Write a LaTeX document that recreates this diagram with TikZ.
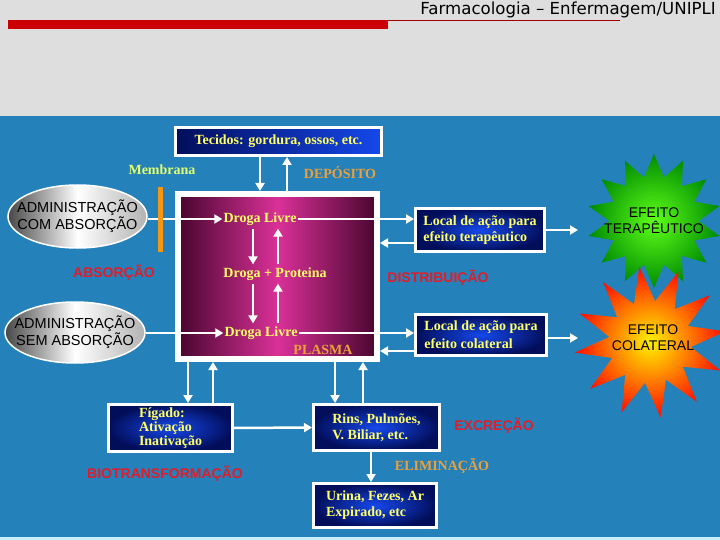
\documentclass[tikz,border=0pt]{standalone}
\usepackage{fontspec}
\setmainfont{Liberation Serif}
\setsansfont{Liberation Sans}
\newfontfamily\hdrfont{DejaVu Sans}
\usetikzlibrary{shapes.geometric,arrows.meta,calc}
\definecolor{bgblue}{RGB}{36,129,186}
\definecolor{hdrgray}{RGB}{222,222,222}
\definecolor{hdrred}{RGB}{204,0,0}
\definecolor{stripcyan}{RGB}{200,240,250}
\definecolor{txtyellow}{RGB}{255,255,102}
\definecolor{memyellow}{RGB}{225,255,110}
\definecolor{lblorange}{RGB}{236,160,60}
\definecolor{lblred}{RGB}{226,28,40}
\definecolor{navydark}{RGB}{2,14,90}
\definecolor{navybright}{RGB}{22,72,235}
\definecolor{plasmadark}{RGB}{72,6,46}
\definecolor{plasmabright}{RGB}{218,48,152}
\definecolor{membar}{RGB}{245,150,20}
\begin{document}
\begin{tikzpicture}[x=1pt,y=-1pt,
  arr/.style={draw=white, line width=2.5pt, -{Triangle[length=8pt,width=9pt]}},
  bluebox/.style={draw=white, line width=3pt, inner color=navybright, outer color=navydark,
    inner sep=2pt, align=left, text=txtyellow, font=\bfseries\fontsize{14}{16}\selectfont},
  ytxt/.style={text=txtyellow, inner sep=1pt, font=\bfseries\fontsize{14}{16}\selectfont},
  otxt/.style={text=lblorange, inner sep=1pt, font=\bfseries\fontsize{14}{16}\selectfont},
  rtxt/.style={text=lblred, inner sep=1pt, font=\sffamily\bfseries\fontsize{14}{16}\selectfont},
  admell/.style={ellipse, draw=white, line width=1.5pt, left color=black!72,
    right color=black!30, middle color=white, inner xsep=-25pt, inner ysep=0pt, align=center,
    font=\sffamily\fontsize{14.5}{17}\selectfont},
  startxt/.style={align=center, inner sep=0pt, font=\sffamily\fontsize{14}{16}\selectfont}
]
\useasboundingbox (0,0) rectangle (720,540);
% background
\fill[hdrgray] (0,0) rectangle (720,116);
\fill[bgblue] (0,116) rectangle (720,540);
\fill[stripcyan] (0,537) rectangle (720,540);
% header
\node[anchor=east, inner sep=0pt, font=\hdrfont\fontsize{16.6}{18}\selectfont] (hdr) at (716,9.5) {Farmacologia – Enfermagem/UNIPLI};
\fill[hdrred] (8,20) rectangle (388,29);
\draw[hdrred!80!black, line width=0.8pt] (388,20.4) -- (620,20.4);

% boxes
\node[bluebox, minimum width=206, minimum height=28, left color=navydark, right color=navybright, align=center] (tec) at (278.5,141.5) {Tecidos: gordura, ossos, etc.};
\node[draw=white, line width=6pt, minimum width=199, minimum height=165, inner sep=0pt,
  left color=plasmadark, right color=plasmadark, middle color=plasmabright] (plasma) at (277.5,276.5) {};
\node[bluebox, minimum width=129, minimum height=43] (lt) at (480,230) {Local de ação para\\efeito terapêutico};
\node[bluebox, minimum width=131, minimum height=41, font=\bfseries\fontsize{14}{18}\selectfont] (lc) at (481,335) {Local de ação para\\efeito colateral};
\node[bluebox, minimum width=124, minimum height=47, font=\bfseries\fontsize{14}{14}\selectfont] (fig) at (170.5,428) {Fígado:\\Ativação\\Inativação};
\node[bluebox, minimum width=126, minimum height=46] (rins) at (376.5,427.5) {Rins, Pulmões,\\V. Biliar, etc.};
\node[bluebox, minimum width=123, minimum height=44] (uri) at (375,505.5) {Urina, Fezes, Ar\\Expirado, etc};

% ellipses
\node[admell, minimum width=139, minimum height=63] (adm1) at (77.5,216.5) {ADMINISTRAÇÃO\\COM ABSORÇÃO};
\node[admell, minimum width=140, minimum height=61] (adm2) at (75,332.5) {ADMINISTRAÇÃO\\SEM ABSORÇÃO};

% stars
\node[star, star points=14, star point ratio=1.5, minimum size=134, inner sep=0pt,
  inner color=green!70!yellow!90!white, outer color=green!55!black] (gstar) at (654,221) {};
\node[startxt] (gtxt) at (gstar.center) {EFEITO\\TERAPÊUTICO};
\node[star, star points=12, star point ratio=1.85, minimum size=152, inner sep=0pt,
  inner color=yellow!90!orange, outer color=red!90!orange, rotate=8] (rstar) at (650,342) {};
\node[startxt] (rtxt) at (653,338) {EFEITO\\COLATERAL};

% text inside plasma
\node[ytxt] (dl1) at (260,219) {Droga Livre};
\node[ytxt] (dp) at (275,274) {Droga + Proteina};
\node[ytxt] (dl2) at (261,333) {Droga Livre};
\node[otxt] (pla) at (323,350) {PLASMA};

% labels
\node[text=memyellow, inner sep=1pt, font=\bfseries\fontsize{14}{16}\selectfont] (mem) at (162,170) {Membrana};
\node[otxt] (dep) at (340,173) {DEPÓSITO};
\node[rtxt] (abs) at (114,273) {ABSORÇÃO};
\node[rtxt] (dis) at (438,278) {DISTRIBUIÇÃO};
\node[rtxt] (bio) at (165,474) {BIOTRANSFORMAÇÃO};
\node[rtxt] (exc) at (494,426) {EXCREÇÃO};
\node[otxt] (eli) at (442,466) {ELIMINAÇÃO};

% helper coordinates
\coordinate (xa) at (260,0);
\coordinate (xb) at (287,0);
\coordinate (xc) at (253,0);
\coordinate (xd) at (278,0);
\coordinate (xe) at (188,0);
\coordinate (xf) at (213,0);
\coordinate (xg) at (335,0);
\coordinate (xh) at (363,0);
\coordinate (xi) at (371,0);
\coordinate (yr1) at (0,243);
\coordinate (yr2) at (0,351);
\coordinate (gtip) at (578,230);
\coordinate (rtip) at (578,338);

% connectors
\draw[arr] (tec.south -| xa) -- (plasma.north -| xa);
\draw[arr] (plasma.north -| xb) -- (tec.south -| xb);
\draw[arr, shorten <=2pt, shorten >=2pt] (dl1.south -| xc) -- (dp.north -| xc);
\draw[arr, shorten <=2pt, shorten >=2pt] (dp.north -| xd) -- (dl1.south -| xd);
\draw[arr, shorten <=2pt, shorten >=2pt] (dp.south -| xc) -- (dl2.north -| xc);
\draw[arr, shorten <=2pt, shorten >=2pt] (dl2.north -| xd) -- (dp.south -| xd);
\draw[arr] (adm1.east |- dl1.west) -- (dl1.west);
\draw[arr] (adm2.east |- dl2.west) -- (dl2.west);
% membrane bar
\fill[membar] (158,187) rectangle (163,252);
\draw[arr] (dl1.east) -- (dl1.east -| lt.west);
\draw[arr] (lt.west |- yr1) -- (plasma.east |- yr1);
\draw[arr] (dl2.east) -- (dl2.east -| lc.west);
\draw[arr] (lc.west |- yr2) -- (plasma.east |- yr2);
\draw[arr] (lt.east) -- (gtip);
\draw[arr] (lc.east |- rtip) -- (rtip);
\draw[arr] (plasma.south -| xe) -- (fig.north -| xe);
\draw[arr] (fig.north -| xf) -- (plasma.south -| xf);
\draw[arr] (plasma.south -| xg) -- (rins.north -| xg);
\draw[arr] (rins.north -| xh) -- (plasma.south -| xh);
\draw[arr] (fig.east) -- (rins.west);
\draw[arr] (rins.south -| xi) -- (uri.north -| xi);
\end{tikzpicture}
\end{document}
